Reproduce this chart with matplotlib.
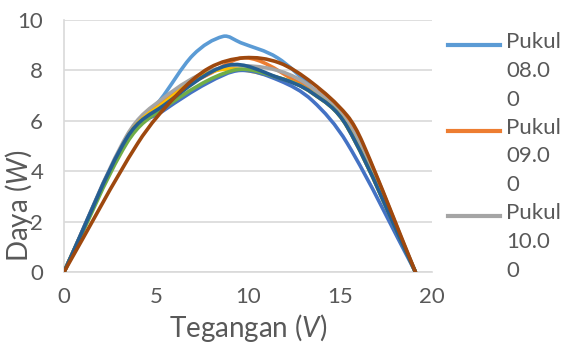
import matplotlib.pyplot as plt
from matplotlib.path import Path
from matplotlib.patches import PathPatch
from matplotlib.lines import Line2D

plt.rcParams['font.family'] = ['Lato', 'DejaVu Sans']
plt.rcParams['mathtext.fontset'] = 'custom'
plt.rcParams['mathtext.it'] = 'Lato:italic'
plt.rcParams['mathtext.rm'] = 'Lato'

# data (tegangan V, daya W) per jam pengukuran
v_08 = [0, 3.4, 5.2, 7.0, 8.65, 9.6, 11.6, 13.5, 15.5, 19.1]
p_08 = [0, 5.3, 6.8, 8.6, 9.35, 9.1, 8.5, 7.3, 5.8, 0]
v_09 = [0, 3.4, 5.4, 8.0, 9.9, 12.3, 15.5, 19.1]
p_09 = [0, 5.3, 6.8, 7.9, 8.5, 7.7, 6.0, 0]
v_10 = [0, 3.4, 5.4, 8.0, 11.0, 13.5, 15.9, 19.1]
p_10 = [0, 5.4, 6.9, 8.0, 8.1, 7.3, 5.35, 0]
v_11 = [0, 3.4, 5.4, 8.3, 11.7, 13.5, 15.4, 19.1]
p_11 = [0, 5.3, 6.7, 8.0, 7.7, 7.1, 5.75, 0]
v_12 = [0, 3.4, 5.4, 7.8, 9.6, 11.7, 13.5, 15.4, 19.1]
p_12 = [0, 5.3, 6.4, 7.5, 8.0, 7.6, 6.8, 5.1, 0]
v_13 = [0, 3.4, 5.4, 9.2, 11.7, 13.5, 15.4, 19.1]
p_13 = [0, 5.1, 6.5, 8.0, 7.7, 7.1, 5.75, 0]
v_14 = [0, 3.4, 5.4, 8.9, 11.7, 13.5, 15.4, 19.1]
p_14 = [0, 5.3, 6.6, 8.2, 7.7, 7.1, 5.75, 0]
v_15 = [0, 4.0, 6.1, 7.9, 9.8, 11.7, 13.5, 15.4, 16.25, 19.1]
p_15 = [0, 5.1, 7.0, 8.1, 8.5, 8.3, 7.5, 6.2, 5.1, 0]

labels = ['Pukul 08.00', 'Pukul 09.00', 'Pukul 10.00', 'Pukul 11.00',
          'Pukul 12.00', 'Pukul 13.00', 'Pukul 14.00', 'Pukul 15.00']
warna = ['#5B9BD5', '#ED7D31', '#A5A5A5', '#FFC000',
         '#4472C4', '#70AD47', '#255E91', '#9E480E']
seri = [(v_08, p_08), (v_09, p_09), (v_10, p_10), (v_11, p_11),
        (v_12, p_12), (v_13, p_13), (v_14, p_14), (v_15, p_15)]

abu = '#595959'


# garis halus (bezier kubik lewat titik data, kemiringan dari titik tetangga)
def smooth_path(xs, ys):
    n = len(xs)
    m = []
    for i in range(n):
        a = max(i - 1, 0)
        d = min(i + 1, n - 1)
        m.append((ys[d] - ys[a]) / (xs[d] - xs[a]))
    verts = [(xs[0], ys[0])]
    codes = [Path.MOVETO]
    for i in range(n - 1):
        h = (xs[i + 1] - xs[i]) / 3
        verts += [(xs[i] + h, ys[i] + m[i] * h),
                  (xs[i + 1] - h, ys[i + 1] - m[i + 1] * h),
                  (xs[i + 1], ys[i + 1])]
        codes += [Path.CURVE4] * 3
    return Path(verts, codes)


fig = plt.figure(figsize=(5.61, 3.47), dpi=100)
ax = fig.add_axes([0.1141, 0.2161, 0.770 - 0.1141, 0.9424 - 0.2161])

for (xs, ys), c in zip(seri, warna):
    ax.add_patch(PathPatch(smooth_path(xs, ys), facecolor='none', edgecolor=c,
                           lw=2.6, capstyle='round', joinstyle='round', zorder=3))

ax.set_xlim(0, 20)
ax.set_ylim(0, 10)
ax.set_xticks([0, 5, 10, 15, 20])
ax.set_yticks([0, 2, 4, 6, 8, 10])
ax.grid(axis='y', color='#D9D9D9', lw=1.2)
ax.set_axisbelow(True)
for s in ['top', 'right']:
    ax.spines[s].set_visible(False)
ax.spines['left'].set_color('#D9D9D9')
ax.spines['bottom'].set_color('#D9D9D9')
ax.spines['left'].set_linewidth(1.2)
ax.spines['bottom'].set_linewidth(1.2)
ax.tick_params(length=0, labelsize=16, labelcolor=abu)
ax.tick_params(axis='x', pad=11)
ax.tick_params(axis='y', pad=15)

ax.text(0.5, -0.222, 'Tegangan $\\mathit{(V)}$', fontsize=20, color=abu,
        ha='center', va='center', transform=ax.transAxes)
ax.text(-0.122, 0.262, 'Daya $\\mathit{(W)}$', fontsize=20, color=abu, rotation=90,
        ha='center', va='center', transform=ax.transAxes)

# legenda (terpotong, hanya 3 item terlihat)
for i in range(3):
    y = 1 - (45 + i * 85.5) / 347
    fig.add_artist(Line2D([448 / 561, 500 / 561], [y, y], color=warna[i], lw=3,
                          transform=fig.transFigure))
    lab = labels[i]
    teks = lab[:5] + '\n' + lab[6:10] + '\n' + lab[10:]
    fig.text(506 / 561, y + 0.037, teks, fontsize=16, color=abu, va='top',
             ha='left', linespacing=1.55)

fig.savefig('out.png', dpi=100)
